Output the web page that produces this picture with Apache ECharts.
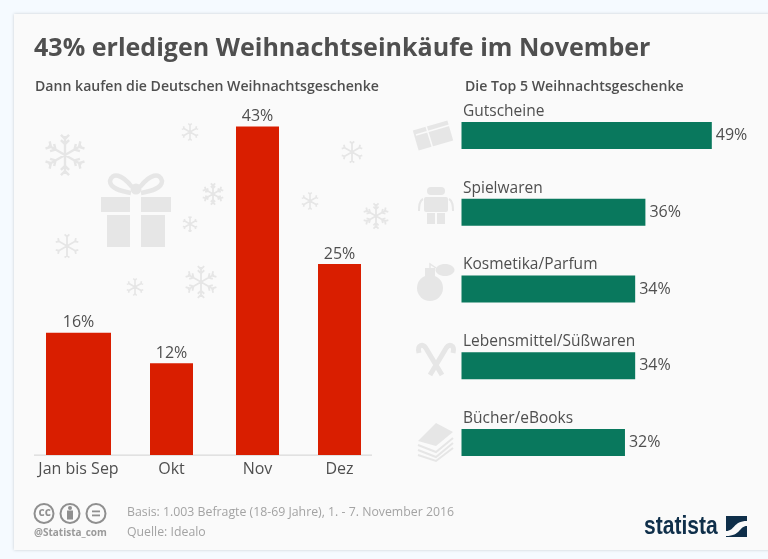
<!DOCTYPE html>
<html>
<head>
<meta charset="utf-8">
<script src="https://cdn.jsdelivr.net/npm/echarts@6/dist/echarts.min.js"></script>
<style>
  html, body { margin: 0; padding: 0; width: 768px; height: 559px; overflow: hidden; background: #f5faff; }
  #card { position: absolute; left: 14px; top: 14px; width: 760px; height: 536px; background: #fafafa; box-shadow: 0 0 3px rgba(0,0,0,.18); }
  #main { position: absolute; left: 0; top: 0; width: 768px; height: 559px; }
</style>
</head>
<body>
<div id="card"></div>
<div id="main"></div>
<script>
// Daten
var monthNames = ["Jan bis Sep", "Okt", "Nov", "Dez"];
var monthValues = [16, 12, 43, 25];
var giftNames = ["Gutscheine", "Spielwaren", "Kosmetika/Parfum", "Lebensmittel/Süßwaren", "Bücher/eBooks"];
var giftValues = [49, 36, 34, 34, 32];

var FONT = '"Open Sans", sans-serif';
var TEXT = "#4f4f4f";
var ICON = "#e6e6e6";

// die Monatsbalken stehen im Original nicht gleichmäßig, deshalb je ein eigenes grid
var monthLeft = [46, 150, 236, 318];
var monthWidth = [65, 43, 43, 43];

var grids = [], xAxes = [], yAxes = [], series = [];
monthNames.forEach(function (name, i) {
  grids.push({ left: monthLeft[i], width: monthWidth[i], top: 126.5, height: 328.5 });
  xAxes.push({
    type: "category", gridIndex: i, data: [name],
    axisLine: { show: false }, axisTick: { show: false },
    axisLabel: { interval: 0, color: TEXT, fontFamily: FONT, fontSize: 16, margin: 6 },
  });
  yAxes.push({ type: "value", gridIndex: i, min: 0, max: 43, show: false });
  series.push({
    type: "bar", xAxisIndex: i, yAxisIndex: i, data: [monthValues[i]],
    barWidth: "100%", itemStyle: { color: "#d91e00" }, animation: false,
    label: { show: true, position: "top", distance: 2, formatter: "{c}%", color: TEXT, fontFamily: FONT, fontSize: 16 },
  });
});

// rechte Seite
grids.push({ left: 461.5, width: 306.6, top: 97.1, height: 383.8 });
xAxes.push({ type: "value", gridIndex: 4, min: 0, max: 60, show: false });
yAxes.push({
  type: "category", gridIndex: 4, inverse: true, data: giftNames,
  axisLine: { show: false }, axisTick: { show: false },
  axisLabel: {
    inside: true, interval: 0, margin: 1.5, color: TEXT, fontFamily: FONT, fontSize: 15.5,
    align: "left", verticalAlign: "bottom", padding: [0, 0, 16, 0],
  },
});
series.push({
  type: "bar", xAxisIndex: 4, yAxisIndex: 4, data: giftValues,
  barWidth: 27, itemStyle: { color: "#09785d" }, animation: false,
  label: { show: true, position: "right", distance: 4, formatter: "{c}%", color: TEXT, fontFamily: FONT, fontSize: 16 },
});

function txt(x, y, text, size, weight, color, family) {
  return {
    type: "text", x: x, y: y,
    style: { text: text, fontSize: size, fontWeight: weight, fill: color, fontFamily: family || FONT, verticalAlign: "middle" },
  };
}

// Schneeflocke als Pfad: sechs Arme mit kleinen Ästen
function flake(cx, cy, r, branches) {
  var d = "";
  for (var i = 0; i < 6; i++) {
    var a = (i * Math.PI) / 3 + Math.PI / 2;
    var ux = Math.cos(a), uy = Math.sin(a);
    d += "M" + cx + " " + cy + "L" + (cx + ux * r) + " " + (cy + uy * r);
    for (var k = 1; k <= branches; k++) {
      var t = 0.3 + (0.55 * k) / branches;
      var px = cx + ux * r * t, py = cy + uy * r * t;
      [-0.8, 0.8].forEach(function (s) {
        var b = a + s;
        var l = r * 0.3;
        d += "M" + px + " " + py + "L" + (px + Math.cos(b) * l) + " " + (py + Math.sin(b) * l);
      });
    }
  }
  return stroke(d, r > 15 ? 2.4 : r > 9 ? 1.8 : 1.6);
}

function rect(x, y, w, h, color, rot, radius) {
  var el = { type: "rect", shape: { x: x, y: y, width: w, height: h, r: radius || 0 }, style: { fill: color || ICON } };
  if (rot) { el.rotation = rot; el.originX = x + w / 2; el.originY = y + h / 2; }
  return el;
}
function circle(x, y, r, color) {
  return { type: "circle", shape: { cx: x, cy: y, r: r }, style: { fill: color || ICON } };
}
function ring(x, y, r, color, lw) {
  return { type: "circle", shape: { cx: x, cy: y, r: r }, style: { fill: "none", stroke: color || ICON, lineWidth: lw || 2 } };
}
function stroke(d, lw, color) {
  return { type: "path", shape: { pathData: d }, style: { fill: "none", stroke: color || ICON, lineWidth: lw } };
}
function shape(d, color) {
  return { type: "path", shape: { pathData: d }, style: { fill: color || ICON } };
}

var flakes = [
  flake(65, 155, 19, 2), flake(190, 132, 8, 1), flake(213, 194, 10, 2), flake(190, 224, 7, 1),
  flake(67, 246, 11, 1), flake(135, 287, 8, 1), flake(201, 282, 15, 2), flake(352, 152, 10, 1),
  flake(310, 201, 8, 1), flake(376, 216, 12, 2),
];

var giftBox = [
  rect(101, 197, 29, 15), rect(141, 197, 30, 15),
  rect(107, 215, 23, 32), rect(141, 215, 24, 32),
  circle(136, 189, 5.5),
  stroke("M131 193C120 191 110 188 110 181C112 172 122 174 132 187", 4.5),
  stroke("M141 193C152 191 162 188 162 181C160 172 150 174 140 187", 4.5),
];

// Symbole links neben den Balken
var voucher = [
  rect(415, 125, 36, 21, ICON, 0.28),
  stroke("M426 126L433 149M416 135L450 125", 1.5, "#fafafa"),
];
var robot = [
  rect(427, 187, 18, 8, ICON, 0, 4), rect(424, 197, 24, 15, ICON, 0, 2),
  stroke("M423 199C419 201 419 206 419 211M449 199C453 201 453 206 453 211", 2),
  rect(427, 213, 8, 11), rect(437, 213, 8, 11),
];
var perfume = [
  circle(430, 288, 13), rect(425, 268, 10, 8),
  { type: "ellipse", shape: { cx: 445, cy: 270, rx: 9.5, ry: 6 }, style: { fill: ICON } },
  stroke("M430 268L430 264L436 268", 1.5),
];
var candy = [
  stroke("M442 375L427 350C423 342 417 345 419 353", 5),
  stroke("M430 375L445 350C449 342 455 345 453 353", 5),
];
var books = [
  shape("M418 441L436 423L453 432L436 446Z"),
  stroke("M418 445L436 452L453 438", 2),
  stroke("M418 450L436 457L453 443", 2),
  stroke("M418 455L436 461L453 448", 2),
];

// cc, Person, gleich
var GRAY = "#8f8f8f";
var licence = [
  ring(44, 513.5, 9.5, GRAY, 2), ring(70, 513.5, 9.5, GRAY, 2), ring(96, 513.5, 9.5, GRAY, 2),
  circle(70, 508, 2, GRAY), rect(67, 510.5, 6, 9, GRAY),
  rect(92, 510.5, 8, 1.8, GRAY), rect(92, 514.5, 8, 1.8, GRAY),
];

var logo = [
  rect(726, 516, 21, 21, "#0f2f4a"),
  shape("M726 531C735 531 733 521 747 521L747 526C739 526 741 536 726 536Z", "#fafafa"),
];

// Deko läuft über eine custom series, nur dort gibt es den path-Typ
var decor = [].concat(flakes, giftBox, voucher, robot, perfume, candy, books, licence, logo, [rect(34, 454.6, 338, 1.2, "#d9d9d9")]);
series.push({
  type: "custom", coordinateSystem: "none", data: [0], silent: true, animation: false,
  renderItem: function () {
    return { type: "group", children: decor };
  },
});

var brand = txt(644, 527, "statista", 26, "bold", "#0f2f4a", '"Liberation Sans", sans-serif');
brand.scaleX = 0.81;

var myChart = echarts.init(document.getElementById("main"), null, { renderer: "canvas" });
myChart.setOption({
  backgroundColor: "transparent",
  animation: false,
  grid: grids,
  xAxis: xAxes,
  yAxis: yAxes,
  series: series,
  graphic: [
    txt(34, 48.5, "43% erledigen Weihnachtseinkäufe im November", 25.05, "bold", TEXT),
    txt(35, 86.5, "Dann kaufen die Deutschen Weihnachtsgeschenke", 14.1, 600, TEXT),
    txt(465, 86.5, "Die Top 5 Weihnachtsgeschenke", 14.1, 600, TEXT),
    txt(127, 512, "Basis: 1.003 Befragte (18-69 Jahre), 1. - 7. November 2016", 12.3, "normal", "#a3a3a3"),
    txt(127, 532, "Quelle: Idealo", 12.3, "normal", "#a3a3a3"),
    txt(34, 533, "@Statista_com", 10, "bold", "#9a9a9a"),
    txt(38.5, 513, "cc", 12, "bold", GRAY),
    brand,
  ],
});
</script>
</body>
</html>
